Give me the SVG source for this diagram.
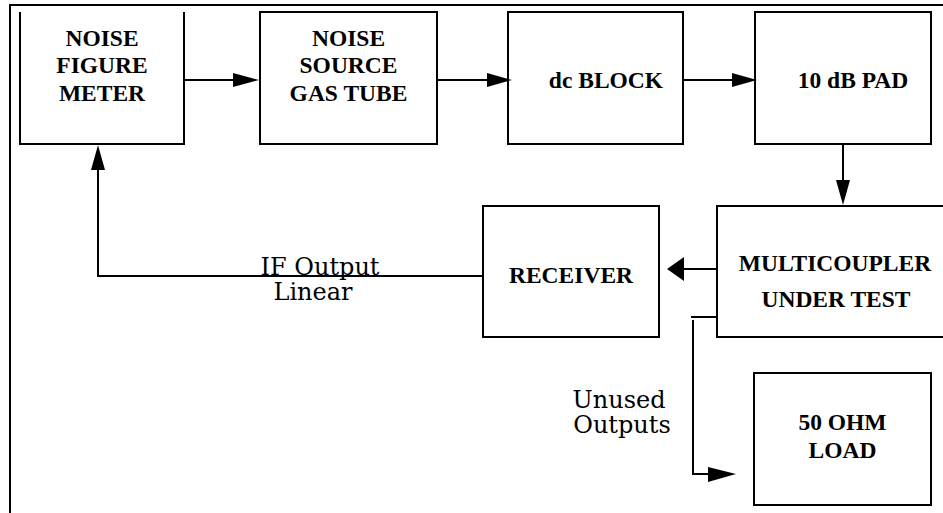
<svg xmlns="http://www.w3.org/2000/svg" width="943" height="513" viewBox="0 0 943 513">
<style>
.box{fill:none;stroke:#000;stroke-width:2}
.ln{fill:none;stroke:#000;stroke-width:2}
.lbl{font-family:"Liberation Serif","Times New Roman",serif;font-weight:bold;font-size:23.5px;fill:#000;text-anchor:middle}
.note{font-family:"DejaVu Serif",serif;font-size:24px;fill:#000;text-anchor:middle}
.ah{fill:#000}
</style>
<rect width="943" height="513" fill="#fff"/>
<g id="frame">
<path class="ln" d="M10,513 V5 H943"/>
</g>
<g id="noise-figure-meter">
<path class="box" d="M20,12 V144 H184 V12"/>
<text class="lbl" x="102" y="46">NOISE</text>
<text class="lbl" x="102" y="73">FIGURE</text>
<text class="lbl" x="102" y="101">METER</text>
</g>
<g id="noise-source">
<rect class="box" x="260" y="12" width="177" height="132"/>
<text class="lbl" x="348.5" y="46">NOISE</text>
<text class="lbl" x="348.5" y="73">SOURCE</text>
<text class="lbl" x="348.5" y="101">GAS TUBE</text>
</g>
<g id="dc-block">
<rect class="box" x="508" y="12" width="175" height="132"/>
<text class="lbl" x="606" y="88">dc BLOCK</text>
</g>
<g id="pad">
<rect class="box" x="755" y="12" width="176" height="132"/>
<text class="lbl" x="853" y="88">10 dB PAD</text>
</g>
<g id="receiver">
<rect class="box" x="483" y="206" width="176" height="131"/>
<text class="lbl" x="571" y="283">RECEIVER</text>
</g>
<g id="multicoupler">
<path class="box" d="M945,206 H717 V337 H945"/>
<text class="lbl" x="835" y="271">MULTICOUPLER</text>
<text class="lbl" x="836" y="307">UNDER TEST</text>
</g>
<g id="load">
<rect class="box" x="754" y="373" width="177" height="132"/>
<text class="lbl" x="842.5" y="430">50 OHM</text>
<text class="lbl" x="842.5" y="458">LOAD</text>
</g>
<g id="connectors">
<line class="ln" x1="184" y1="80" x2="236" y2="80"/>
<polygon class="ah" points="233,73 259,80 233,87"/>
<line class="ln" x1="437" y1="80" x2="490" y2="80"/>
<polygon class="ah" points="487,73 512,80 487,87"/>
<line class="ln" x1="683" y1="80" x2="735" y2="80"/>
<polygon class="ah" points="732,73 757,80 732,87"/>
<line class="ln" x1="843" y1="144" x2="843" y2="183"/>
<polygon class="ah" points="836,180 850,180 843,205"/>
<line class="ln" x1="717" y1="269" x2="682" y2="269"/>
<polygon class="ah" points="684,257 684,281 667,269"/>
<path class="ln" d="M483,276 H98 V167"/>
<polygon class="ah" points="91,170 105,170 98,145"/>
<path class="ln" d="M717,317 H691"/>
<path class="ln" d="M693,320 V474 H711"/>
<polygon class="ah" points="708,467 736,474 708,482"/>
</g>
<g id="labels">
<text class="note" x="320" y="275">IF Output</text>
<text class="note" x="313" y="300">Linear</text>
<text class="note" x="619" y="408">Unused</text>
<text class="note" x="622" y="433">Outputs</text>
</g>
</svg>
